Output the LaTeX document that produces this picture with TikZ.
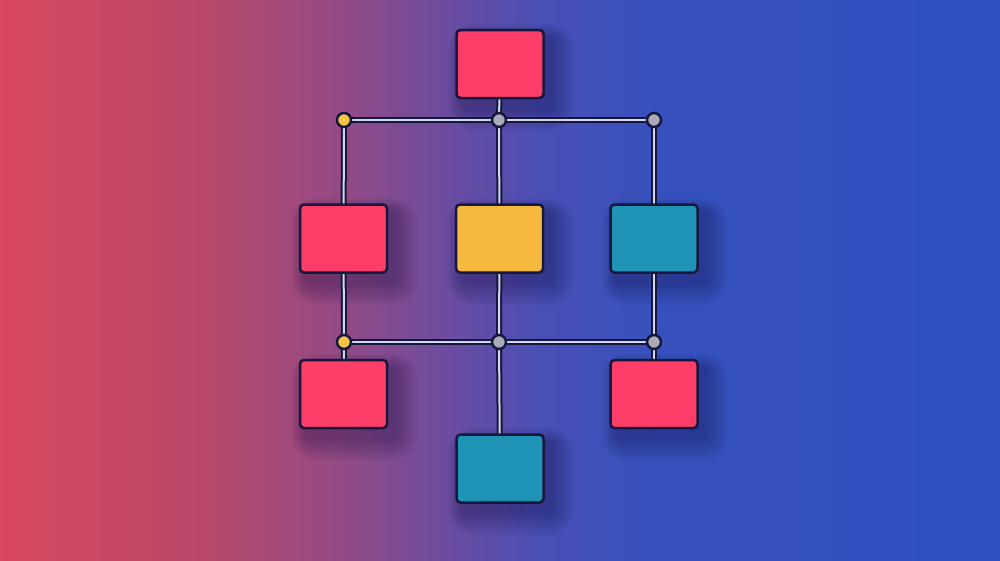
\documentclass[tikz,border=0pt]{standalone}
\definecolor{bgA}{HTML}{D8485F}
\definecolor{bgB}{HTML}{B94868}
\definecolor{bgC}{HTML}{944A85}
\definecolor{bgD}{HTML}{6E4C9E}
\definecolor{bgE}{HTML}{4A4FB5}
\definecolor{bgF}{HTML}{3651BE}
\definecolor{bgG}{HTML}{3050C0}
\definecolor{pinkbox}{HTML}{FB3D68}
\definecolor{yellowbox}{HTML}{F5B940}
\definecolor{tealbox}{HTML}{1E93B6}
\definecolor{outline}{HTML}{16173C}
\definecolor{dotgray}{HTML}{A8AABA}
\definecolor{dotyellow}{HTML}{F6C443}
\definecolor{wire}{HTML}{D2D6EE}
\definecolor{shadowc}{HTML}{10123A}
\pgfdeclarelayer{bglayer}
\pgfdeclarelayer{shadowlayer}
\pgfdeclarelayer{wires}
\pgfsetlayers{bglayer,shadowlayer,wires,main}
\tikzset{
  box/.style={rectangle, rounded corners=4pt, draw=outline, line width=2.5pt,
    minimum width=87pt, minimum height=68pt, inner sep=0pt},
  pinkb/.style={box, fill=pinkbox},
  yellowb/.style={box, fill=yellowbox},
  tealb/.style={box, fill=tealbox},
  jdot/.style={circle, draw=outline, line width=2.5pt, fill=dotgray, minimum size=14pt, inner sep=0pt},
  ydot/.style={jdot, fill=dotyellow},
  conn/.style={draw=outline, line width=2pt, double=wire, double distance=2pt},
  softshadow/.style={fill=shadowc, opacity=0.028}
}
\begin{document}
\begin{tikzpicture}[x=1pt,y=-1pt]
\useasboundingbox (0,0) rectangle (1000,560);
\begin{pgfonlayer}{bglayer}
\shade[left color=bgA, right color=bgB] (0,0) rectangle (200,560);
\shade[left color=bgB, right color=bgC] (200,0) rectangle (340,560);
\shade[left color=bgC, right color=bgD] (340,0) rectangle (440,560);
\shade[left color=bgD, right color=bgE] (440,0) rectangle (540,560);
\shade[left color=bgE, right color=bgF] (540,0) rectangle (660,560);
\shade[left color=bgF, right color=bgG] (660,0) rectangle (1000,560);
\end{pgfonlayer}
% boxes
\node[pinkb]   (top) at (500,64) {};
\node[pinkb]   (ml)  at (343.5,238.5) {};
\node[yellowb] (mm)  at (499.5,238.5) {};
\node[tealb]   (mr)  at (654,238.5) {};
\node[pinkb]   (bl)  at (343.5,394) {};
\node[pinkb]   (br)  at (654,394) {};
\node[tealb]   (bm)  at (500,468.5) {};
% junction dots
\node[ydot] (d1l) at (344,120) {};
\node[jdot] (d1m) at (499,120) {};
\node[jdot] (d1r) at (654,120) {};
\node[ydot] (d2l) at (344,342) {};
\node[jdot] (d2m) at (499,342) {};
\node[jdot] (d2r) at (654,342) {};
% soft shadows
\begin{pgfonlayer}{shadowlayer}
\foreach \n in {top,ml,mm,mr,bl,br,bm}{
  \foreach \k in {0,2,...,22}{
    \pgfmathsetmacro{\rc}{4+\k}
    \fill[softshadow, rounded corners=\rc pt] ([xshift={(6-0.6*\k)*1pt}, yshift={(-8+0.6*\k)*1pt}]\n.north west)
      rectangle ([xshift={(8+\k)*1pt}, yshift={(-10-\k)*1pt}]\n.south east);
  }
}
\end{pgfonlayer}
% connectors
\begin{pgfonlayer}{wires}
\draw[conn] (d1l.center) -- (d1r.center);
\draw[conn] (d2l.center) -- (d2r.center);
\draw[conn] (top.center) -- (d1m.center);
\draw[conn] (d1l.center) -- (ml.center) -- (d2l.center) -- (bl.center);
\draw[conn] (d1m.center) -- (mm.center) -- (d2m.center) -- (bm.center);
\draw[conn] (d1r.center) -- (mr.center) -- (d2r.center) -- (br.center);
\end{pgfonlayer}
\end{tikzpicture}
\end{document}
